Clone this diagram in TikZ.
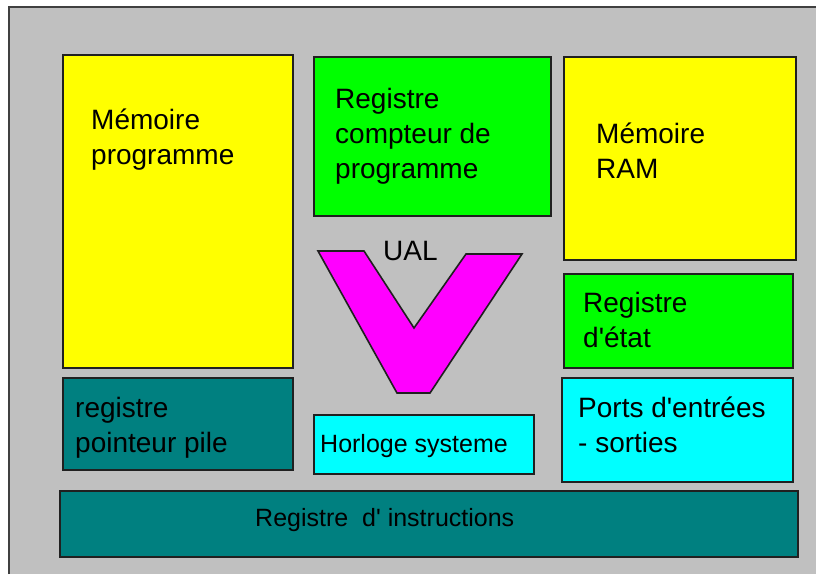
\documentclass[tikz,border=0pt]{standalone}
\usepackage{fontspec}
\setmainfont{Liberation Sans}[Ligatures=TeXOff]
\definecolor{panel}{HTML}{C0C0C0}
\definecolor{ylw}{HTML}{FFFF00}
\definecolor{grn}{HTML}{00FF00}
\definecolor{tealc}{HTML}{008080}
\definecolor{cyn}{HTML}{00FFFF}
\definecolor{mag}{HTML}{FF00FF}
\definecolor{edge}{HTML}{202020}
\tikzset{
  blk/.style={draw=edge, line width=1.6pt, anchor=north west, inner sep=0pt},
  lbl/.style={anchor=base west, inner sep=0pt, align=left, font=\fontsize{28}{35}\selectfont},
  lblsmall/.style={anchor=base west, inner sep=0pt, align=left, font=\fontsize{25}{32}\selectfont},
}
\newcommand{\blkbox}[6]{% name, colour, x, y, width, height
  \node[blk, fill=#2, minimum width=#5pt, minimum height=#6pt] (#1) at (#3,#4) {};}
\begin{document}
\begin{tikzpicture}[x=1pt, y=-1pt]
\useasboundingbox (0,0) rectangle (816,574);
% grey panel with its frame on the left and top
\fill[panel] (9,7) rectangle (816,574);
\draw[line width=2pt, draw=black!75] (9,574) -- (9,7) -- (816,7);

% blocks
\blkbox{memprog}{ylw}{62}{54}{230}{313}
\blkbox{compteur}{grn}{313}{56}{237}{159}
\blkbox{ram}{ylw}{563}{56}{232}{203}
\blkbox{etat}{grn}{563}{273}{229}{94}
\blkbox{ports}{cyn}{561}{377}{231}{104}
\blkbox{pile}{tealc}{62}{377}{230}{92}
\blkbox{horloge}{cyn}{313}{414}{220}{59}
\blkbox{instr}{tealc}{59}{490}{738}{66}

% arithmetic and logic unit
\draw[draw=edge, line width=1.6pt, fill=mag, line join=miter]
  (318,251) -- (364,251) -- (414,328) -- (466,254) -- (522,254)
  -- (430,393) -- (397,393) -- cycle;

% labels (base anchor sits on the last line)
\node[lbl] (tmemprog) at (91,164) {Mémoire\\programme};
\node[lbl] (tcompteur) at (335,178) {Registre\\compteur de\\programme};
\node[lbl] (tram) at (596,178) {Mémoire\\RAM};
\node[lbl] (tetat) at (583,347) {Registre\\d'état};
\node[lbl] (tports) at (578,452) {Ports d'entrées\\- sorties};
\node[lbl] (tpile) at (75,452) {registre\\pointeur pile};
\node[lblsmall] (thorloge) at (320,452) {Horloge systeme};
\node[lblsmall] (tinstr) at (255,526) {Registre\ \ d' instructions};
\node[lbl] (tual) at (383,260) {UAL};
\end{tikzpicture}
\end{document}
